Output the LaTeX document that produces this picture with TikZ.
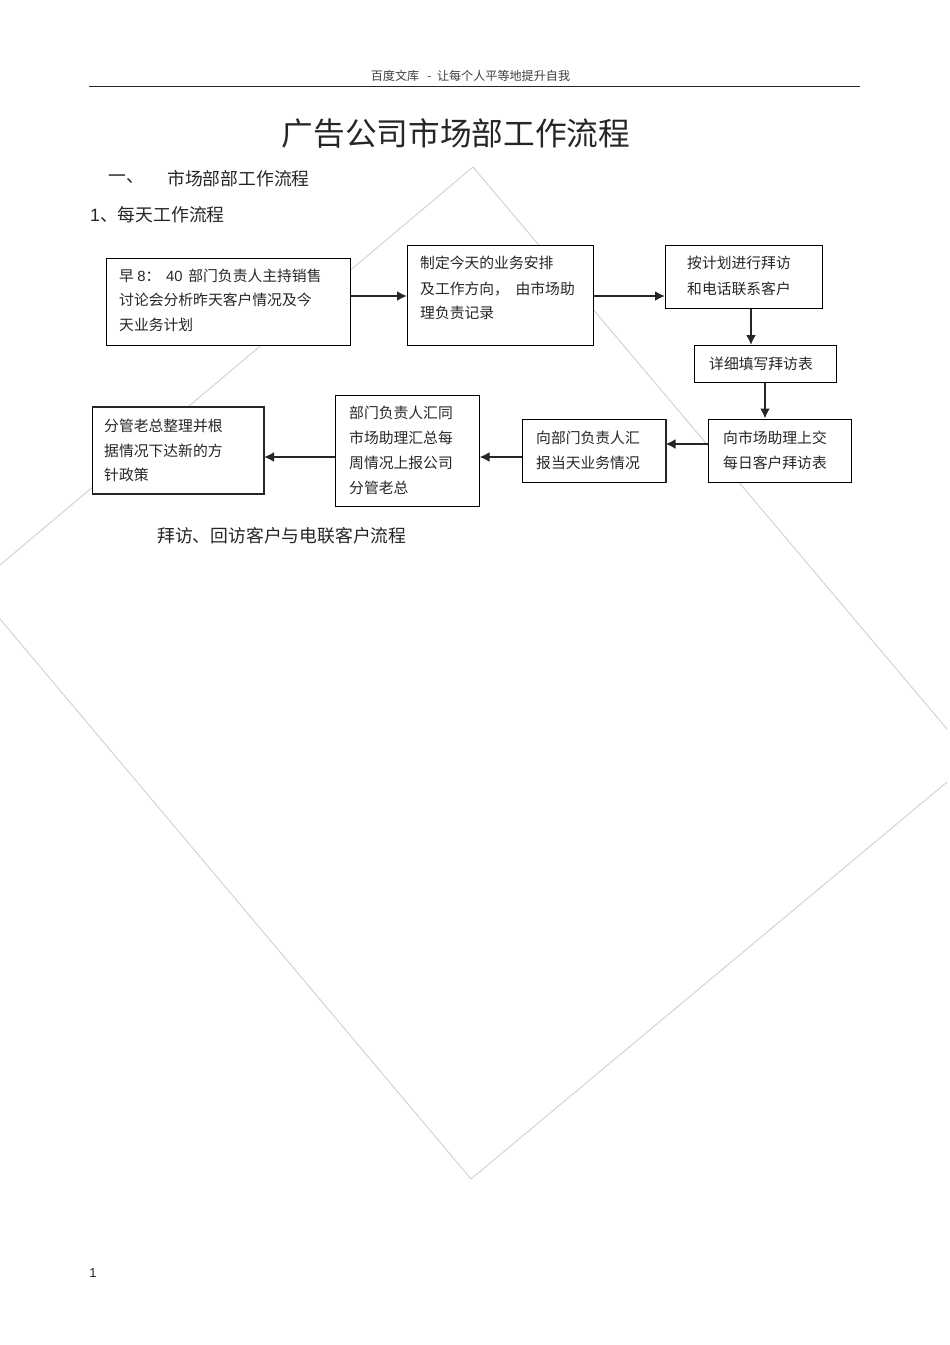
\documentclass[tikz,border=0pt]{standalone}
\usepackage{fontspec}
\setmainfont{Noto Sans CJK SC}
\newfontfamily\latinsans{Liberation Sans}
\usetikzlibrary{arrows.meta}
\tikzset{
  x=1pt,y=-1pt,
  flowbox/.style={draw=black,line width=1pt,fill=white,rectangle,minimum width=0pt},
  boxtext/.style={anchor=west,font=\fontsize{14.8}{14.8}\selectfont,text=black!85,inner sep=0pt},
  heavy/.style={line width=2pt,-{Latex[length=10pt,width=10pt]},draw=black!85},
  ghost/.style={draw=black!20,line width=0.8pt},
}
\begin{document}
\begin{tikzpicture}
\useasboundingbox (0,0) rectangle (950,1345);
\fill[white] (0,0) rectangle (950,1345);
% faint diamond, its left and right corners cut off
\coordinate (dt) at (473,167);
\coordinate (dr1) at (947,729);
\coordinate (dr2) at (947,782);
\coordinate (db) at (471,1179);
\coordinate (dl1) at (0,565);
\coordinate (dl2) at (0,619);
\draw[ghost] (dl1) -- (dt) -- (dr1);
\draw[ghost] (dr2) -- (db) -- (dl2);
% header
\node[font=\fontsize{12.1}{12.1}\selectfont,text=black!75] (hdr) at (470.5,76) {百度文库\ \ \ -\ \ 让每个人平等地提升自我};
\coordinate (rl) at (89,86.5);
\coordinate (rr) at (860,86.5);
\draw[line width=1pt,black!85] (rl) -- (rr);
\node[font=\fontsize{31.7}{32}\selectfont,text=black!85] (title) at (456,133) {广告公司市场部工作流程};
\node[anchor=west,font=\fontsize{17.8}{18}\selectfont,text=black!85,inner sep=0pt] (h1a) at (108,179) {一、};
\node[anchor=west,font=\fontsize{17.8}{18}\selectfont,text=black!85,inner sep=0pt] (h1b) at (167,179) {市场部部工作流程};
\node[anchor=west,font=\fontsize{17.8}{18}\selectfont,text=black!85,inner sep=0pt] (h2) at (90,215) {{\latinsans 1}、每天工作流程};
\node[anchor=west,font=\fontsize{17.8}{18}\selectfont,text=black!85,inner sep=0pt] (h3) at (157,536) {拜访、回访客户与电联客户流程};
\node[font=\fontsize{13}{13}\latinsans\selectfont,text=black!85,inner sep=0pt] (pg) at (93,1273) {1};
% boxes
\node[flowbox,minimum width=244pt,minimum height=87pt] (b1) at (228.5,301.5) {};
\node[flowbox,minimum width=186pt,minimum height=100pt] (b2) at (500.5,295.5) {};
\node[flowbox,minimum width=157pt,minimum height=63pt] (b3) at (744,276.5) {};
\node[flowbox,minimum width=142pt,minimum height=37pt] (b4) at (765,364) {};
\node[flowbox,minimum width=143pt,minimum height=63pt] (b5) at (779.5,450.5) {};
\node[flowbox,minimum width=143pt,minimum height=63pt] (b6) at (593.5,450.5) {};
\node[flowbox,minimum width=144pt,minimum height=111pt] (b7) at (407,450.5) {};
\node[flowbox,minimum width=171pt,minimum height=86pt] (b8) at (178,450.5) {};
% heavier edges as in the reference
\draw[line width=2pt,black!85] (b6.north east) -- (b6.south east);
\draw[line width=2pt,black!85] (b8.north west) -- (b8.north east) -- (b8.south east) -- (b8.south west);
% box text
\node[boxtext] (t1a) at (119,276) {早 {\latinsans 8}：\ \,{\latinsans 40} \,部门负责人主持销售};
\node[boxtext] (t1b) at (119,300) {讨论会分析昨天客户情况及今};
\node[boxtext] (t1c) at (119,325) {天业务计划};
\node[boxtext] (t2a) at (420,263) {制定今天的业务安排};
\node[boxtext] (t2b) at (420,289) {及工作方向，\ \ 由市场助};
\node[boxtext] (t2c) at (420,313) {理负责记录};
\node[boxtext] (t3a) at (687,263) {按计划进行拜访};
\node[boxtext] (t3b) at (687,289) {和电话联系客户};
\node[boxtext] (t4) at (709,364) {详细填写拜访表};
\node[boxtext] (t5a) at (723,438) {向市场助理上交};
\node[boxtext] (t5b) at (723,463) {每日客户拜访表};
\node[boxtext] (t6a) at (536,438) {向部门负责人汇};
\node[boxtext] (t6b) at (536,463) {报当天业务情况};
\node[boxtext] (t7a) at (349,413) {部门负责人汇同};
\node[boxtext] (t7b) at (349,438) {市场助理汇总每};
\node[boxtext] (t7c) at (349,463) {周情况上报公司};
\node[boxtext] (t7d) at (349,488) {分管老总};
\node[boxtext] (t8a) at (104,426) {分管老总整理并根};
\node[boxtext] (t8b) at (104,451) {据情况下达新的方};
\node[boxtext] (t8c) at (104,475) {针政策};
% connectors
\draw[heavy] (b1.east |- 0,296) -- (b2.west |- 0,296);
\draw[heavy] (b2.east |- 0,296) -- (b3.west |- 0,296);
\draw[heavy] (b3.south -| 751,0) -- (b4.north -| 751,0);
\draw[heavy] (b4.south) -- (b5.north -| b4.south);
\draw[heavy] (b5.west |- 0,444) -- (b6.east |- 0,444);
\draw[heavy] (b6.west |- 0,457) -- (b7.east |- 0,457);
\draw[heavy] (b7.west |- 0,457) -- (b8.east |- 0,457);
\end{tikzpicture}
\end{document}
